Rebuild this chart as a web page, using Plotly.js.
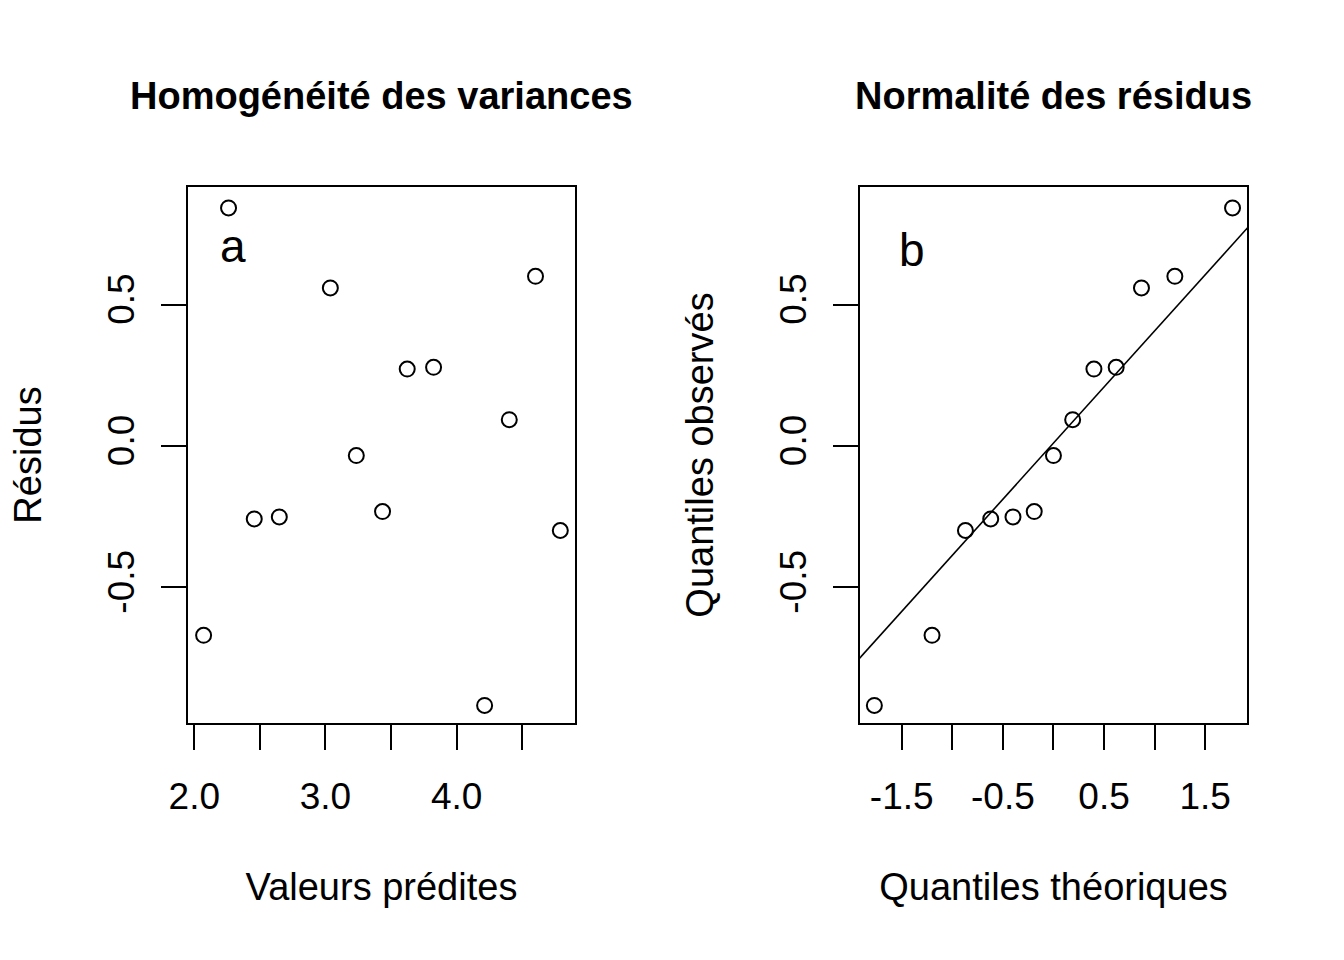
<!DOCTYPE html>
<html>
<head>
<meta charset="utf-8">
<script src="https://cdn.plot.ly/plotly-3.0.1.min.js"></script>
<style>html,body{margin:0;padding:0;background:#fff;}</style>
</head>
<body>
<div id="chart" style="width:1344px;height:960px;"></div>
<script>
// ---- Data ----
const predicted = [2.071, 2.261, 2.457, 2.648, 3.037, 3.235, 3.435, 3.623, 3.824, 4.213, 4.401, 4.601, 4.790];
const residuals = [-0.670, 0.842, -0.258, -0.251, 0.559, -0.034, -0.232, 0.272, 0.278, -0.918, 0.093, 0.600, -0.299];

const theoreticalQuantiles = [-1.77, -1.20, -0.87, -0.62, -0.40, -0.19, 0.00, 0.19, 0.40, 0.62, 0.87, 1.20, 1.77];
const observedQuantiles = [-0.918, -0.670, -0.299, -0.258, -0.251, -0.232, -0.034, 0.093, 0.272, 0.278, 0.559, 0.600, 0.842];

// qqline
const qqIntercept = 0.010;
const qqSlope = 0.397;

// Tick values / labels
const leftXTickVals = [2.0, 2.5, 3.0, 3.5, 4.0, 4.5];
const leftXTickText = ['2.0', '', '3.0', '', '4.0', ''];
const rightXTickVals = [-1.5, -1.0, -0.5, 0.0, 0.5, 1.0, 1.5];
const rightXTickText = ['-1.5', '', '-0.5', '', '0.5', '', '1.5'];
const yTickVals = [-0.5, 0.0, 0.5];
const yTickText = ['-0.5', '0.0', '0.5'];

const titles = ['Homogénéité des variances', 'Normalité des résidus'];
const xLabels = ['Valeurs prédites', 'Quantiles théoriques'];
const yLabels = ['Résidus', 'Quantiles observés'];
const panelLetters = ['a', 'b'];

// ---- Layout constants ----
const FONT = 'Liberation Sans, Arial, Helvetica, sans-serif';
const W = 1344, H = 960;
const leftDomain = [188 / W, 575 / W];
const rightDomain = [860 / W, 1247 / W];
const yDomain = [1 - 723 / H, 1 - 187 / H];
const leftXRange = [1.952, 4.902];
const rightXRange = [-1.912, 1.913];
const yRange = [-0.980, 0.916];

const qqX = [rightXRange[0] - 0.5, rightXRange[1] + 0.5];
const qqY = qqX.map(v => qqIntercept + qqSlope * v);

const marker = {symbol: 'circle-open', size: 15, color: '#000', line: {color: '#000', width: 2}};

const traces = [
  {x: predicted, y: residuals, xaxis: 'x', yaxis: 'y', type: 'scatter', mode: 'markers', marker: marker, hoverinfo: 'x+y', cliponaxis: false},
  {x: theoreticalQuantiles, y: observedQuantiles, xaxis: 'x2', yaxis: 'y2', type: 'scatter', mode: 'markers', marker: marker, hoverinfo: 'x+y', cliponaxis: false},
  {x: qqX, y: qqY, xaxis: 'x2', yaxis: 'y2', type: 'scatter', mode: 'lines', line: {color: '#000', width: 1.6}, hoverinfo: 'skip'}
];

function axisBase() {
  return {
    showline: true, mirror: true, linecolor: '#000', linewidth: 2,
    ticks: 'outside', ticklen: 25, tickwidth: 2, tickcolor: '#000',
    showgrid: false, zeroline: false, fixedrange: true,
    tickfont: {family: FONT, size: 37, color: '#000'},
    tickmode: 'array', automargin: false
  };
}

const layout = {
  width: W, height: H, autosize: false,
  margin: {l: 0, r: 0, t: 0, b: 0, pad: 0},
  paper_bgcolor: '#fff', plot_bgcolor: '#fff',
  showlegend: false,
  font: {family: FONT, color: '#000'},
  xaxis: Object.assign(axisBase(), {
    domain: leftDomain, range: leftXRange, anchor: 'y',
    tickvals: leftXTickVals, ticktext: leftXTickText, ticklabelstandoff: 15,
    title: {text: xLabels[0], font: {family: FONT, size: 38, color: '#000'}, standoff: 57}
  }),
  yaxis: Object.assign(axisBase(), {
    domain: yDomain, range: yRange, anchor: 'x',
    tickvals: yTickVals, ticktext: yTickText, tickangle: -90, ticklabelstandoff: 12,
    title: {text: yLabels[0], font: {family: FONT, size: 38, color: '#000'}, standoff: 48}
  }),
  xaxis2: Object.assign(axisBase(), {
    domain: rightDomain, range: rightXRange, anchor: 'y2',
    tickvals: rightXTickVals, ticktext: rightXTickText, ticklabelstandoff: 15,
    title: {text: xLabels[1], font: {family: FONT, size: 38, color: '#000'}, standoff: 57}
  }),
  yaxis2: Object.assign(axisBase(), {
    domain: yDomain, range: yRange, anchor: 'x2',
    tickvals: yTickVals, ticktext: yTickText, tickangle: -90, ticklabelstandoff: 12,
    title: {text: yLabels[1], font: {family: FONT, size: 38, color: '#000'}, standoff: 48}
  }),
  annotations: [
    {text: titles[0], xref: 'paper', yref: 'paper', x: 381.5 / W, y: 1 - 95.8 / H, xanchor: 'center', yanchor: 'middle', showarrow: false,
     font: {family: FONT, size: 38, color: '#000', weight: 'bold'}},
    {text: titles[1], xref: 'paper', yref: 'paper', x: 1053.5 / W, y: 1 - 95.8 / H, xanchor: 'center', yanchor: 'middle', showarrow: false,
     font: {family: FONT, size: 38, color: '#000', weight: 'bold'}},
    {text: panelLetters[0], xref: 'paper', yref: 'paper', x: 232.5 / W, y: 1 - 245.8 / H, xanchor: 'center', yanchor: 'middle', showarrow: false,
     font: {family: FONT, size: 46, color: '#000'}},
    {text: panelLetters[1], xref: 'paper', yref: 'paper', x: 911.5 / W, y: 1 - 250.1 / H, xanchor: 'center', yanchor: 'middle', showarrow: false,
     font: {family: FONT, size: 46, color: '#000'}}
  ]
};

Plotly.newPlot('chart', traces, layout, {displayModeBar: false, staticPlot: false, responsive: false});
</script>
</body>
</html>
